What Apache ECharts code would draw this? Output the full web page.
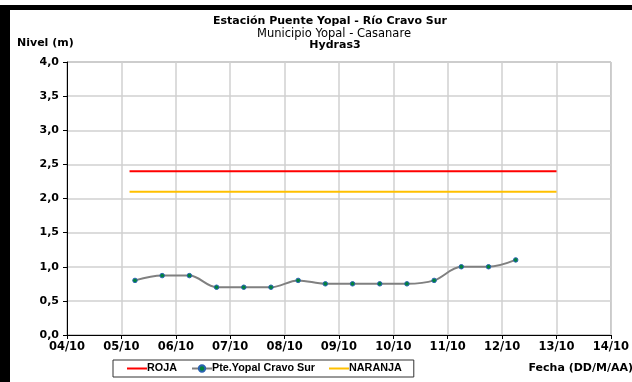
<!DOCTYPE html>
<html>
<head>
    <meta charset="UTF-8">
    <title>Estacion Puente Yopal</title>
    <script src="https://cdn.jsdelivr.net/npm/echarts@6/dist/echarts.min.js"></script>
    <style>
        html, body { margin: 0; padding: 0; background: #fff; }
        #chart { width: 632px; height: 382px; }
    </style>
</head>
<body>
<div id="chart"></div>
<script>
    // dias de octubre (fraccion = hora del dia)
    var tiempos = [5.25, 5.75, 6.25, 6.75, 7.25, 7.75, 8.25, 8.75, 9.25, 9.75, 10.25, 10.75, 11.25, 11.75, 12.25];
    var niveles = [0.80, 0.87, 0.87, 0.70, 0.70, 0.70, 0.80, 0.75, 0.75, 0.75, 0.75, 0.80, 1.00, 1.00, 1.10];
    // umbrales de alerta
    var umbralDias = [5.15, 13.0];
    var roja = 2.4;
    var naranja = 2.1;

    var font = 'DejaVu Sans, Verdana, sans-serif';
    var lineIcon = 'path://M0,4L20,4L20,6L0,6Z';
    function pad(n) { return (n < 10 ? '0' : '') + n; }

    var chart = echarts.init(document.getElementById('chart'), null, { renderer: 'canvas' });
    chart.setOption({
        animation: false,
        textStyle: { fontFamily: font },
        title: [
            { text: 'Estación Puente Yopal - Río Cravo Sur', left: 330, top: 16, padding: 0, textAlign: 'center',
              textStyle: { fontSize: 11, fontWeight: 'bold', color: '#000', fontFamily: font } },
            { text: 'Municipio Yopal - Casanare', left: 334, top: 28, padding: 0, textAlign: 'center',
              textStyle: { fontSize: 11.5, fontWeight: 'normal', color: '#000', fontFamily: font } },
            { text: 'Hydras3', left: 335, top: 40, padding: 0, textAlign: 'center',
              textStyle: { fontSize: 11, fontWeight: 'bold', color: '#000', fontFamily: font } },
            { text: 'Nivel (m)', left: 17, top: 38, padding: 0,
              textStyle: { fontSize: 11, fontWeight: 'bold', color: '#000', fontFamily: font } }
        ],
        graphic: [
            { type: 'rect', shape: { x: 0, y: 5, width: 632, height: 5 }, style: { fill: '#000' } },
            { type: 'rect', shape: { x: 0, y: 5, width: 10, height: 377 }, style: { fill: '#000' } },
            { type: 'text', x: 633, y: 368,
              style: { text: 'Fecha (DD/M/AA)', align: 'right', verticalAlign: 'middle',
                       font: 'bold 11px ' + font, fill: '#000' } }
        ],
        legend: {
            left: 113, top: 360,
            padding: [3, 12, 3, 14],
            borderColor: '#333', borderWidth: 1,
            itemWidth: 20, itemHeight: 8, itemGap: 14,
            textStyle: { fontSize: 10.8, fontWeight: 'bold', color: '#000',
                fontFamily: 'Liberation Sans, Arial, sans-serif', padding: [0, 0, 0, -5] },
            data: [
                { name: 'ROJA', icon: lineIcon },
                { name: 'Pte.Yopal Cravo Sur' },
                { name: 'NARANJA', icon: lineIcon }
            ]
        },
        grid: {
            left: 67, right: 19, top: 62, bottom: 47,
            show: true, borderColor: '#8c8c8c', borderWidth: 1
        },
        xAxis: {
            type: 'value', min: 4, max: 14, interval: 1,
            axisLine: { show: true, onZero: false, lineStyle: { color: '#000', width: 1 } },
            axisTick: { show: true, length: 4, lineStyle: { color: '#000' } },
            axisLabel: { fontSize: 11.5, fontWeight: 'bold', color: '#000', margin: 6,
                formatter: function (v) { return pad(v) + '/10'; } },
            splitLine: { show: true, lineStyle: { color: '#d0d0d0', width: 1.5 } }
        },
        yAxis: {
            type: 'value', min: 0, max: 4, interval: 0.5,
            axisLine: { show: true, lineStyle: { color: '#000', width: 1 } },
            axisTick: { show: true, length: 4, lineStyle: { color: '#000' } },
            axisLabel: { fontSize: 11, fontWeight: 'bold', color: '#000', margin: 8,
                formatter: function (v) { return v.toFixed(1).replace('.', ','); } },
            splitLine: { show: true, lineStyle: { color: '#d0d0d0', width: 1.5 } }
        },
        series: [
            {
                name: 'ROJA', type: 'line', symbol: 'none',
                lineStyle: { color: '#ff0000', width: 2 }, itemStyle: { color: '#ff0000' },
                data: umbralDias.map(function (d) { return [d, roja]; })
            },
            {
                name: 'Pte.Yopal Cravo Sur', type: 'line', smooth: 0.35,
                symbol: 'circle', symbolSize: 4.5, showAllSymbol: true,
                lineStyle: { color: '#808080', width: 2 },
                itemStyle: { color: '#00843a', borderColor: '#2a63b0', borderWidth: 1 },
                data: tiempos.map(function (t, i) { return [t, niveles[i]]; }),
                z: 3
            },
            {
                name: 'NARANJA', type: 'line', symbol: 'none',
                lineStyle: { color: '#ffc000', width: 2 }, itemStyle: { color: '#ffc000' },
                data: umbralDias.map(function (d) { return [d, naranja]; })
            }
        ]
    });
</script>
</body>
</html>
